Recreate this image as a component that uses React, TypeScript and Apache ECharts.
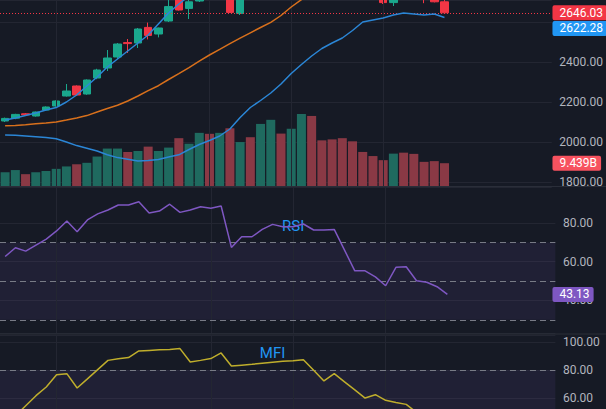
import React, { useEffect, useRef } from 'react';
import * as echarts from 'echarts';

// ---- data (daily bars, leftmost partly cut) ----
const categories = [
  'd00','d01','d02','d03','d04','d05','d06','d07','d08','d09','d10',
  'd11','d12','d13','d14','d15','d16','d17','d18','d19','d20','d21',
  'd22','d23','d24','d25','d26','d27','d28','d29','d30','d31','d32',
  'd33','d34','d35','d36','d37','d38','d39','d40','d41','d42','d43'
];
// [open, close, low, high]
const ohlc: number[][] = [
  [2105, 2118, 2100, 2122], [2119, 2138, 2114, 2141], [2141, 2136, 2132, 2145], [2130, 2150, 2127, 2152],
  [2160, 2175, 2157, 2178], [2180, 2205, 2177, 2208], [2230, 2255, 2227, 2290], [2280, 2235, 2232, 2283],
  [2240, 2310, 2236, 2313], [2320, 2360, 2314, 2366], [2370, 2420, 2355, 2460], [2425, 2490, 2415, 2495],
  [2497, 2492, 2445, 2515], [2495, 2565, 2470, 2570], [2573, 2533, 2513, 2597], [2540, 2570, 2523, 2572],
  [2605, 2677, 2600, 2720], [2730, 2660, 2657, 2745], [2668, 2701, 2615, 2712], [2705, 2748, 2700, 2755],
  [2760, 2725, 2714, 2770], [2725, 2772, 2716, 2780], [2768, 2648, 2646, 2778], [2643, 2745, 2635, 2752],
  [2745, 2735, 2722, 2758], [2735, 2780, 2728, 2790], [2780, 2825, 2770, 2840], [2825, 2808, 2795, 2836],
  [2808, 2840, 2800, 2852], [2840, 2870, 2832, 2880], [2870, 2852, 2840, 2878], [2852, 2840, 2826, 2860],
  [2840, 2832, 2820, 2848], [2832, 2790, 2780, 2838], [2790, 2755, 2740, 2800], [2755, 2748, 2735, 2768],
  [2748, 2735, 2722, 2756], [2735, 2697, 2690, 2740], [2697, 2716, 2680, 2725], [2745, 2720, 2713, 2752],
  [2738, 2722, 2714, 2748], [2730, 2718, 2694, 2738], [2728, 2701, 2698, 2735], [2701, 2646.03, 2640, 2712]
];
const volumes = [
  5.7, 6.6, 4.9, 5.7, 6.2, 7.1, 8.1, 9.0, 9.6, 12.2, 15.5, 15.5, 14.1, 14.5, 16.3, 14.5,
  15.9, 19.8, 17.5, 22.0, 21.6, 22.0, 23.9, 18.2, 20.2, 25.7, 27.4, 21.7, 23.7, 29.8, 29.0,
  18.9, 19.3, 19.8, 18.5, 14.1, 12.4, 10.7, 13.4, 13.8, 13.3, 10.0, 10.3, 9.439
];
const maSlow = [
  2081.5, 2082.5, 2086.5, 2091, 2095, 2099.5, 2109.5, 2120, 2132, 2150, 2167.5, 2183.5, 2205, 2230,
  2257, 2281.5, 2312.5, 2341.5, 2372, 2404, 2435, 2463, 2491.5, 2519, 2546, 2572.5, 2598.5, 2632.5,
  2675, 2712, 2740, 2765, 2790, 2812, 2832, 2850, 2866, 2880, 2892, 2903, 2913, 2921, 2928, 2934
];
const maFast = [
  2110, 2120, 2132, 2145, 2160, 2172, 2200, 2235, 2280, 2325, 2375, 2415, 2455, 2495, 2535, 2590,
  2645, 2690, 2730, 2750, 2765, 2775, 2770, 2775, 2780, 2785, 2795, 2805, 2815, 2830, 2840, 2840,
  2835, 2830, 2815, 2795, 2775, 2755, 2745, 2735, 2730, 2725, 2720, 2715
];
const maBlue = [
  2035, 2033.5, 2030, 2026.5, 2022.5, 2016, 2000, 1982, 1969, 1955, 1936, 1922, 1913.5, 1905, 1907.5,
  1913, 1925, 1936, 1962.5, 1987.5, 2007.5, 2030, 2065, 2122.5, 2172.5, 2207.5, 2245, 2290, 2342.5,
  2387.5, 2430, 2467.5, 2495, 2520, 2557.5, 2600, 2610, 2620, 2635, 2645, 2640, 2635, 2640, 2622.28
];
const rsi = [
  62.7, 67.2, 65.5, 68.6, 71.7, 75.9, 81.0, 75.5, 81.6, 84.7, 86.7, 89.3, 89.3, 91.0, 85.2, 86.2,
  89.7, 85.5, 86.7, 88.4, 87.6, 88.8, 67.4, 72.9, 72.9, 76.7, 79.3, 78.1, 78.1, 79.5, 76.4, 76.4,
  76.7, 66.0, 55.3, 55.3, 52.2, 47.6, 57.1, 57.4, 50.2, 49.4, 47.1, 43.13
];
const mfi = [
  40.5, 47.5, 54.7, 61.9, 68.1, 76.9, 77.6, 67.4, 73.9, 80.5, 87.1, 88.2, 89.1, 93.8, 94.2, 94.6,
  94.9, 95.5, 85.9, 87.1, 88.4, 92.4, 83.1, 83.7, 84.3, 85.0, 85.7, 86.4, 86.9, 87.6, 80.0, 72.4,
  77.6, 71.8, 66.0, 60.2, 62.6, 58.6, 57.1, 55.7, 50.0, 45.7, 43.0, 40.0
];
const verticalGridIdx = [5, 20, 28, 37, 45];
const rsiLevels = [70, 50, 30];
const mfiLevels = [80];
const volumeLabel = '9.439B';

const BG = '#161a25';
const GRID = '#232632';
const SEP = '#2a2e39';
const TEXT = '#b2b5be';
const UP = '#1aa88d';
const DOWN = '#f23645';
const VOL_UP = '#1f6a5f';
const VOL_DOWN = '#8a3945';
const ORANGE = '#d8701c';
const BLUE = '#2b86d6';
const LABEL_BLUE = '#2196f3';
const FONT = 'Roboto';

export default function App() {
  const ref = useRef<HTMLDivElement>(null);
  useEffect(() => {
    const chart = echarts.init(ref.current!, null, { renderer: 'svg' });
    const gridLeft = -8.95;
    const gridWidth = 564.3;
    const fmt = (v: number) => v.toFixed(2);
    const vLines = {
      silent: true,
      symbol: ['none', 'none'],
      label: { show: false },
      lineStyle: { color: GRID, type: 'solid', width: 1 },
      data: verticalGridIdx.map((i) => ({ xAxis: i })),
    };
    const yCommon = (extra: any) => ({
      type: 'value',
      position: 'right',
      axisLine: { show: false },
      axisTick: { show: false },
      splitLine: { lineStyle: { color: GRID, width: 1 } },
      axisLabel: {
        color: TEXT, fontSize: 12, fontFamily: FONT, margin: 7.6,
        showMinLabel: false, showMaxLabel: false, formatter: fmt,
      },
      ...extra,
    });
    const lastClose = ohlc[ohlc.length - 1][1];
    const option: any = {
      animation: false,
      backgroundColor: BG,
      textStyle: { fontFamily: FONT },
      grid: [
        { left: gridLeft, top: 0, width: gridWidth, height: 186 },
        { left: gridLeft, top: 187, width: gridWidth, height: 146 },
        { left: gridLeft, top: 335, width: gridWidth, height: 74 },
      ],
      xAxis: [0, 1, 2].map((g) => ({
        type: 'category', gridIndex: g, data: categories, max: 53, show: false, boundaryGap: true,
      })),
      yAxis: [
        yCommon({
          gridIndex: 0, min: 1780, max: 2710,
          axisLabel: {
            color: TEXT, fontSize: 12, fontFamily: FONT, margin: 7.6,
            showMinLabel: false, showMaxLabel: false,
            formatter: (v: number) => (v === 2600 ? '' : v.toFixed(2)),
          },
        }),
        { type: 'value', gridIndex: 0, min: 0, max: 77, show: false },
        yCommon({ gridIndex: 1, min: 23.2, max: 98.6 }),
        yCommon({ gridIndex: 2, min: 52.4, max: 105.2, splitNumber: 3 }),
      ],
      series: [
        { type: 'line', xAxisIndex: 0, yAxisIndex: 0, data: [], z: 1, markLine: vLines },
        { type: 'line', xAxisIndex: 1, yAxisIndex: 2, data: [], z: 1, markLine: vLines },
        { type: 'line', xAxisIndex: 2, yAxisIndex: 3, data: [], z: 1, markLine: vLines },
        {
          name: 'Volume', type: 'bar', xAxisIndex: 0, yAxisIndex: 1, barWidth: 9, z: 2,
          data: volumes.map((v, i) => ({
            value: v,
            itemStyle: { color: ohlc[i][1] >= ohlc[i][0] ? VOL_UP : VOL_DOWN },
          })),
        },
        {
          name: 'Price', type: 'candlestick', xAxisIndex: 0, yAxisIndex: 0, barWidth: 8, z: 4, clip: true,
          data: ohlc,
          itemStyle: { color: UP, color0: DOWN, borderColor: UP, borderColor0: DOWN, borderWidth: 1 },
          markLine: {
            silent: true, symbol: ['none', 'none'], label: { show: false },
            lineStyle: { color: DOWN, type: [1, 2], width: 1 },
            data: [{ yAxis: lastClose }],
          },
        },
        {
          name: 'MA slow', type: 'line', xAxisIndex: 0, yAxisIndex: 0, data: maSlow, symbol: 'none', z: 5,
          lineStyle: { color: ORANGE, width: 1.5 },
        },
        {
          name: 'MA fast', type: 'line', xAxisIndex: 0, yAxisIndex: 0, data: maFast, symbol: 'none', z: 5,
          lineStyle: { color: BLUE, width: 1.5 },
        },
        {
          name: 'MA', type: 'line', xAxisIndex: 0, yAxisIndex: 0, data: maBlue, symbol: 'none', z: 5,
          lineStyle: { color: BLUE, width: 1.5 },
        },
        {
          name: 'RSI', type: 'line', xAxisIndex: 1, yAxisIndex: 2, data: rsi, symbol: 'none', z: 5,
          lineStyle: { color: '#7e57c2', width: 1.5 },
          markArea: {
            silent: true, itemStyle: { color: 'rgba(126,87,194,0.1)' },
            data: [[{ yAxis: 30 }, { yAxis: 70 }]],
          },
          markLine: {
            silent: true, symbol: ['none', 'none'], label: { show: false },
            lineStyle: { color: '#787b86', type: [6, 4], width: 1 },
            data: rsiLevels.map((v) => ({ yAxis: v })),
          },
          markPoint: {
            silent: true, symbol: 'circle', symbolSize: 0,
            label: { show: true, position: 'inside', color: LABEL_BLUE, fontSize: 15, fontFamily: FONT, formatter: 'RSI' },
            data: [{ coord: [categories[28], 78.45] }],
          },
        },
        {
          name: 'MFI', type: 'line', xAxisIndex: 2, yAxisIndex: 3, data: mfi, symbol: 'none', z: 5,
          lineStyle: { color: '#bfae2c', width: 1.5 },
          markArea: {
            silent: true, itemStyle: { color: 'rgba(126,87,194,0.1)' },
            data: [[{ yAxis: 52.4 }, { yAxis: 80 }]],
          },
          markLine: {
            silent: true, symbol: ['none', 'none'], label: { show: false },
            lineStyle: { color: '#787b86', type: [6, 4], width: 1 },
            data: mfiLevels.map((v) => ({ yAxis: v })),
          },
          markPoint: {
            silent: true, symbol: 'circle', symbolSize: 0,
            label: { show: true, position: 'inside', color: LABEL_BLUE, fontSize: 15, fontFamily: FONT, formatter: 'MFI' },
            data: [{ coord: [categories[26], 92.5] }],
          },
        },
      ],
    };
    chart.setOption(option);

    // value boxes on the right scales, placed through the axes
    const xA = chart.convertToPixel({ xAxisIndex: 0 }, 53) as number;
    const xB = chart.convertToPixel({ xAxisIndex: 0 }, 52) as number;
    const gridRight = xA + (xA - xB) / 2;
    const boxX = gridRight + 0.7;
    const yRed = chart.convertToPixel({ yAxisIndex: 0 }, lastClose) as number;
    const yBlueRaw = chart.convertToPixel({ yAxisIndex: 0 }, maBlue[maBlue.length - 1]) as number;
    const yBlue = Math.max(yBlueRaw, yRed + 15.6);
    const yVol = chart.convertToPixel({ yAxisIndex: 1 }, volumes[volumes.length - 1]) as number;
    const yRsi = chart.convertToPixel({ yAxisIndex: 2 }, rsi[rsi.length - 1]) as number;
    const box = (text: string, y: number, fill: string) => ({
      type: 'text', x: boxX, y, z: 120,
      style: {
        text, fill: '#ffffff', font: `12px ${FONT}`, align: 'left', verticalAlign: 'middle',
        backgroundColor: fill, padding: [2, 4, 1, 7], borderRadius: 2,
      },
    });
    chart.setOption({
      graphic: [
        { type: 'rect', z: 100, shape: { x: gridRight, y: 186.5, width: 606 - gridRight, height: 3 }, style: { fill: BG } },
        { type: 'rect', z: 110, shape: { x: 0, y: 186, width: 606, height: 1 }, style: { fill: SEP } },
        { type: 'rect', z: 110, shape: { x: 0, y: 333.5, width: 606, height: 1 }, style: { fill: SEP } },
        box(fmt(lastClose), yRed, DOWN),
        box(fmt(maBlue[maBlue.length - 1]), yBlue, LABEL_BLUE),
        box(volumeLabel, yVol, '#f7525f'),
        box(fmt(rsi[rsi.length - 1]), yRsi, '#7e57c2'),
      ],
    });
    return () => chart.dispose();
  }, []);
  return (
    <div
      ref={ref}
      style={{ position: 'fixed', left: 0, top: 0, width: 606, height: 409 }}
    />
  );
}
